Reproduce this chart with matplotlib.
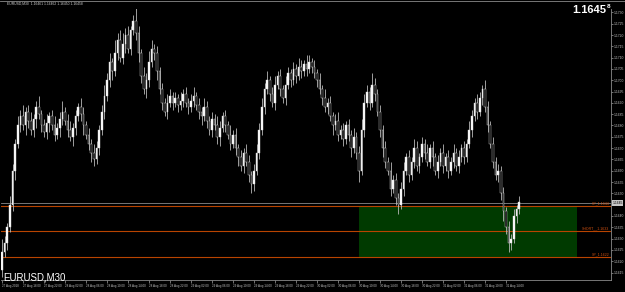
import matplotlib.pyplot as plt
from matplotlib.patches import Rectangle

# EURUSD M30, 27 Aug 2018 14:00 -> 31 Aug 2018
closes = [
    1.1624, 1.1628, 1.1635, 1.1645,
    1.1660, 1.1672, 1.1680, 1.1684,
    1.1680, 1.1686, 1.1682, 1.1678, 1.1683, 1.1688, 1.1685, 1.1680, 1.1677, 1.1681,
    1.1684, 1.1680, 1.1676, 1.1679, 1.1683, 1.1686, 1.1682, 1.1678, 1.1675, 1.1679,
    1.1684, 1.1688, 1.1685, 1.1680, 1.1676, 1.1672,
    1.1668, 1.1665, 1.1670,
    1.1678, 1.1686, 1.1693, 1.1700, 1.1708, 1.1704, 1.1712, 1.1718, 1.1710, 1.1716,
    1.1720, 1.1714, 1.1722, 1.1726, 1.1721, 1.1712,
    1.1702, 1.1696, 1.1700, 1.1708, 1.1714,
    1.1712, 1.1704, 1.1696,
    1.1690, 1.1686, 1.1690, 1.1693,
    1.1690, 1.1692, 1.1689, 1.1691, 1.1694, 1.1690, 1.1688, 1.1691, 1.1693, 1.1689, 1.1686,
    1.1684, 1.1688, 1.1682, 1.1678, 1.1683, 1.1680, 1.1675, 1.1679, 1.1684, 1.1680,
    1.1676, 1.1672, 1.1676, 1.1670, 1.1666, 1.1662, 1.1668, 1.1664, 1.1658,
    1.1654, 1.1660, 1.1668,
    1.1678, 1.1688, 1.1696, 1.1700, 1.1694,
    1.1690, 1.1698, 1.1702, 1.1696, 1.1692, 1.1698, 1.1703, 1.1700, 1.1705, 1.1702, 1.1706,
    1.1704, 1.1707, 1.1705, 1.1708, 1.1706, 1.1703, 1.1700, 1.1696,
    1.1692, 1.1688, 1.1690, 1.1684, 1.1680, 1.1682, 1.1676, 1.1678,
    1.1674, 1.1680, 1.1676, 1.1670, 1.1675, 1.1668, 1.1660,
    1.1678, 1.1690, 1.1695, 1.1690, 1.1698, 1.1694,
    1.1686, 1.1678, 1.1670, 1.1664, 1.1660, 1.1652, 1.1656, 1.1648,
    1.1645, 1.1652,
    1.1660, 1.1666, 1.1658, 1.1664, 1.1670, 1.1662, 1.1666, 1.1672,
    1.1668, 1.1664, 1.1670, 1.1666, 1.1660, 1.1664, 1.1668, 1.1662,
    1.1666, 1.1660, 1.1664, 1.1668, 1.1662, 1.1666, 1.1670, 1.1666, 1.1672,
    1.1678, 1.1684, 1.1690, 1.1686, 1.1692, 1.1696, 1.1688,
    1.1680, 1.1672, 1.1664, 1.1658, 1.1660, 1.1650,
    1.1642, 1.1635, 1.1628,
    1.1630, 1.1640, 1.1643, 1.1646,
]
first_open = 1.1616

# wick lengths in pips
upper_pips = [
    6, 3, 2, 4, 3, 2, 4, 3, 5, 2, 3, 4, 2, 3, 5, 2, 3, 4, 2, 3,
    4, 2, 3, 5, 2, 3, 4, 2, 3, 2, 4, 3, 2, 3, 2, 4, 3, 2, 3, 5,
    3, 4, 2, 6, 3, 4, 5, 3, 4, 2, 3, 9, 3, 2, 4, 3, 5, 4, 2, 3,
    2, 3, 2, 4, 3, 2, 3, 2, 4, 2, 3, 2, 3, 4, 2, 3, 2, 4, 3, 2,
    3, 2, 4, 3, 2, 3, 2, 4, 2, 3, 2, 3, 2, 4, 3, 2, 3, 4, 3, 4,
    3, 4, 2, 3, 4, 2, 3, 2, 4, 3, 2, 3, 2, 4, 3, 2, 4, 3, 2, 3,
    2, 3, 2, 4, 2, 3, 2, 3, 4, 2, 3, 2, 3, 2, 4, 2, 3, 5, 4, 3,
    2, 5, 3, 2, 3, 2, 3, 2, 4, 2, 3, 2, 3, 4, 2, 3, 2, 4, 3, 2,
    3, 2, 4, 2, 3, 2, 3, 2, 4, 2, 3, 2, 4, 2, 3, 2, 3, 2, 4, 3,
    2, 4, 3, 2, 4, 3, 2, 3, 2, 3, 2, 3, 2, 3, 2, 3, 2, 3,
]
lower_pips = [
    3, 2, 3, 2, 3, 4, 2, 3, 2, 4, 3, 2, 3, 4, 2, 3, 2, 3, 4, 2,
    3, 2, 4, 3, 2, 3, 2, 4, 3, 2, 3, 4, 2, 3, 4, 3, 2, 3, 2, 3,
    2, 3, 4, 2, 3, 2, 3, 4, 2, 3, 2, 3, 4, 3, 2, 4, 3, 2, 3, 4,
    2, 3, 2, 3, 2, 3, 2, 3, 2, 3, 2, 3, 2, 3, 2, 3, 4, 2, 3, 2,
    3, 2, 3, 4, 2, 3, 2, 3, 2, 3, 4, 2, 3, 2, 3, 4, 3, 2, 3, 2,
    3, 2, 3, 2, 3, 2, 3, 2, 3, 2, 3, 2, 3, 2, 3, 2, 3, 2, 3, 2,
    3, 2, 3, 2, 3, 2, 4, 2, 3, 2, 3, 2, 3, 4, 2, 3, 5, 2, 3, 2,
    3, 2, 3, 2, 3, 4, 3, 2, 3, 2, 3, 4, 2, 3, 2, 3, 2, 3, 2, 3,
    2, 3, 2, 3, 4, 2, 3, 2, 3, 2, 3, 2, 3, 2, 3, 2, 3, 2, 2, 3,
    2, 3, 2, 3, 2, 3, 2, 3, 2, 3, 3, 4, 3, 4, 3, 2, 3, 2,
]

time_labels = ['27 Aug 2018', '27 Aug 18:00', '27 Aug 22:00',
               '28 Aug 02:00', '28 Aug 06:00', '28 Aug 10:00', '28 Aug 14:00', '28 Aug 18:00', '28 Aug 22:00',
               '29 Aug 02:00', '29 Aug 06:00', '29 Aug 10:00', '29 Aug 14:00', '29 Aug 18:00', '29 Aug 22:00',
               '30 Aug 02:00', '30 Aug 06:00', '30 Aug 10:00', '30 Aug 14:00', '30 Aug 18:00', '30 Aug 22:00',
               '31 Aug 02:00', '31 Aug 06:00', '31 Aug 10:00', '31 Aug 14:00']
bars_per_label = 8

levels = [1.16444, 1.16333, 1.16219]
level_names = ['SP_1.1644', 'SHORT__1.1633', 'SP_1.1622']
zone_start = 136  # bar index where the green box begins
zone_end = 219

bid = 1.16458
price_ticks = [round(1.1615 + 0.0005 * k, 4) for k in range(24)]

opens = [first_open] + closes[:-1]
highs = [max(o, c) + u * 0.0001 for o, c, u in zip(opens, closes, upper_pips)]
lows = [min(o, c) - d * 0.0001 for o, c, d in zip(opens, closes, lower_pips)]
idx = list(range(len(closes)))

plt.rcParams['font.family'] = ['Liberation Sans', 'DejaVu Sans']
fig = plt.figure(figsize=(6.25, 2.92), dpi=100, facecolor='black')
ax = fig.add_axes([1 / 625, 12 / 292, 610 / 625, 271 / 292], facecolor='black')

ax.add_patch(Rectangle((zone_start, levels[2]), zone_end - zone_start, levels[0] - levels[2],
                       facecolor='#003a00', edgecolor='none', zorder=1))
for lv, name in zip(levels, level_names):
    ax.axhline(lv, color='#b84400', lw=0.8, zorder=2)
    ax.text(0.997, lv + 0.00004, name, color='#d05010', fontsize=2.6,
            ha='right', va='bottom', zorder=5, transform=ax.get_yaxis_transform())
ax.axhline(bid, color='#8a8a8a', lw=0.6, zorder=2)

ax.vlines(idx, lows, highs, color='#b8b8b8', lw=0.6, zorder=3)
body_bottom = [min(o, c) for o, c in zip(opens, closes)]
body_h = [max(abs(c - o), 0.00003) for o, c in zip(opens, closes)]
body_col = ['white' if c >= o else 'black' for o, c in zip(opens, closes)]
ax.bar(idx, body_h, bottom=body_bottom, width=0.62, color=body_col,
       edgecolor='#d8d8d8', linewidth=0.3, zorder=4)

x_px = 2.625
ax.set_xlim(-1 / x_px, 609 / x_px)
ax.set_ylim(1.16117, 1.17315)

# the 1.1645 scale label sits under the bid marker, so leave it blank
ax.yaxis.tick_right()
ax.set_yticks(price_ticks)
ax.set_yticklabels(['' if p == 1.1645 else f'{p:.4f}' for p in price_ticks])
ax.tick_params(axis='y', colors='#a0a0a0', labelcolor='#c0c0c0', labelsize=2.4,
               length=1.5, width=0.5, pad=0.8)
ax.set_xticks([k * bars_per_label for k in range(len(time_labels))])
ax.set_xticklabels(time_labels, ha='left')
ax.tick_params(axis='x', colors='#a0a0a0', labelcolor='#c0c0c0', labelsize=2.2,
               length=2, width=0.5, pad=1)
for s in ['top', 'left']:
    ax.spines[s].set_visible(False)
for s in ['right', 'bottom']:
    ax.spines[s].set_color('#8a8a8a')
    ax.spines[s].set_linewidth(0.6)

# bid label on the price scale
ax.text(1.002, bid, f'{bid:.5f}'[:-1], transform=ax.get_yaxis_transform(), fontsize=2.4,
        color='black', va='center', ha='left',
        bbox=dict(boxstyle='square,pad=0.2', facecolor='#c8c8c8', edgecolor='none'))

fig.text(7 / 625, 1 - 4 / 292, 'EURUSD,M30  1.16461 1.16462 1.16450 1.16458',
         color='#d0d0d0', fontsize=2.4, va='center')
fig.text(3 / 625, 1 - 277 / 292, 'EURUSD,M30', color='white', fontsize=7, va='center')
fig.text(606 / 625, 1 - 10 / 292, '1.1645', color='white', fontsize=8, fontweight='bold',
         ha='right', va='center')
fig.text(607 / 625, 1 - 6 / 292, '8', color='white', fontsize=4.5, fontweight='bold', va='center')
fig.add_artist(plt.Line2D([0, 1], [1 - 1 / 292, 1 - 1 / 292], color='#8a8a8a', lw=0.6))

fig.savefig('out.png', dpi=100, facecolor='black')
